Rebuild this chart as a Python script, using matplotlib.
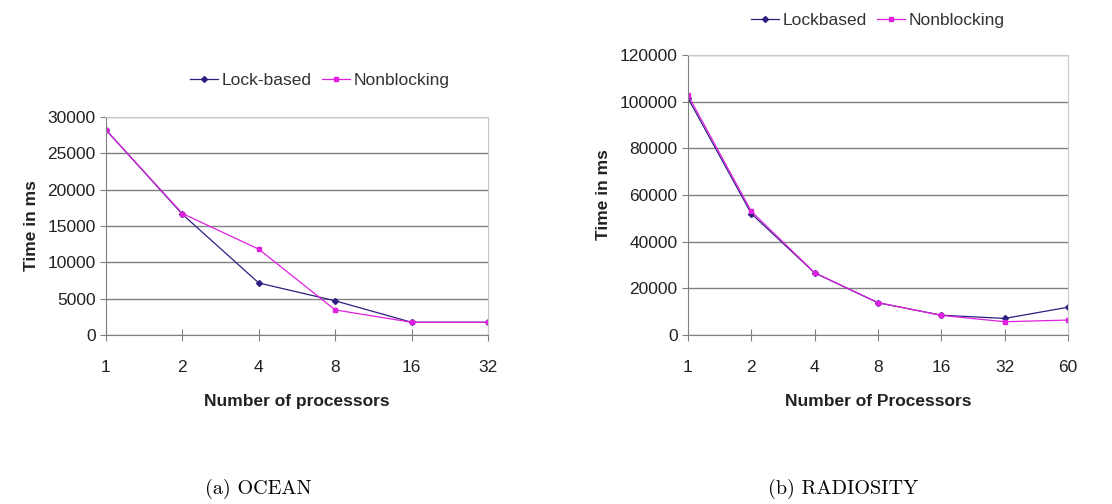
import matplotlib.pyplot as plt

plt.rcParams['font.family'] = ['Liberation Sans', 'DejaVu Sans']

ocean_procs = ['1', '2', '4', '8', '16', '32']
ocean_lock = [28200, 16600, 7150, 4700, 1750, 1750]
ocean_nonblock = [28200, 16700, 11800, 3450, 1750, 1750]

rad_procs = ['1', '2', '4', '8', '16', '32', '60']
rad_lock = [101500, 52000, 26600, 13800, 8500, 7100, 11900]
rad_nonblock = [102800, 53000, 26700, 13900, 8400, 5700, 6400]

lock_color = '#2b2080'
nb_color = '#e020e0'
grid_color = '#808080'
text_color = '#222222'


def style_axes(ax, labels, ymax, ystep, xlabel, legend_labels, legend_x, legend_y):
    ax.set_xlim(0, len(labels) - 1)
    ax.set_ylim(0, ymax)
    ax.set_xticks(range(len(labels)))
    ax.set_xticklabels(labels)
    ax.set_yticks(range(0, ymax + 1, ystep))
    ax.yaxis.grid(True, color=grid_color, linewidth=1)
    ax.set_axisbelow(True)
    for s in ['top', 'right']:
        ax.spines[s].set_color('#c8c8c8')
    for s in ['left', 'bottom']:
        ax.spines[s].set_color(grid_color)
    ax.tick_params(axis='x', direction='inout', length=8, color=grid_color,
                   labelsize=12.5, pad=14, labelcolor=text_color)
    ax.tick_params(axis='y', direction='out', length=4, color=grid_color,
                   labelsize=12.5, labelcolor=text_color)
    ax.set_xlabel(xlabel, fontsize=12.5, fontweight='bold', labelpad=14, color=text_color)
    ax.set_ylabel('Time in ms', fontsize=12.5, fontweight='bold', labelpad=6, color=text_color)
    leg = ax.legend(legend_labels, loc='lower center', bbox_to_anchor=(legend_x, legend_y), ncol=2,
                    frameon=False, fontsize=12.5, handlelength=1.6, columnspacing=0.6,
                    handletextpad=0.2)
    for t in leg.get_texts():
        t.set_color('#333333')


fig = plt.figure(figsize=(11.12, 5.04), dpi=100)

ax1 = fig.add_axes([0.0953, 0.3353, 0.3435, 0.433])
x1 = range(len(ocean_procs))
ax1.plot(x1, ocean_lock, color=lock_color, marker='D', markersize=3, linewidth=0.9)
ax1.plot(x1, ocean_nonblock, color=nb_color, marker='s', markersize=3, linewidth=0.9)
style_axes(ax1, ocean_procs, 30000, 5000, 'Number of processors',
           ['Lock-based', 'Nonblocking'], 0.56, 1.06)

ax2 = fig.add_axes([0.6187, 0.3353, 0.3417, 0.5556])
x2 = range(len(rad_procs))
ax2.plot(x2, rad_lock, color=lock_color, marker='D', markersize=3, linewidth=0.9)
ax2.plot(x2, rad_nonblock, color=nb_color, marker='s', markersize=3, linewidth=0.9)
style_axes(ax2, rad_procs, 120000, 20000, 'Number of Processors',
           ['Lockbased', 'Nonblocking'], 0.5, 1.04)

fig.text(0.232, 0.02, '(a) OCEAN', fontsize=14.5, family='cmr10', ha='center')
fig.text(0.758, 0.02, '(b) RADIOSITY', fontsize=14.5, family='cmr10', ha='center')

fig.savefig('out.png', dpi=100)
